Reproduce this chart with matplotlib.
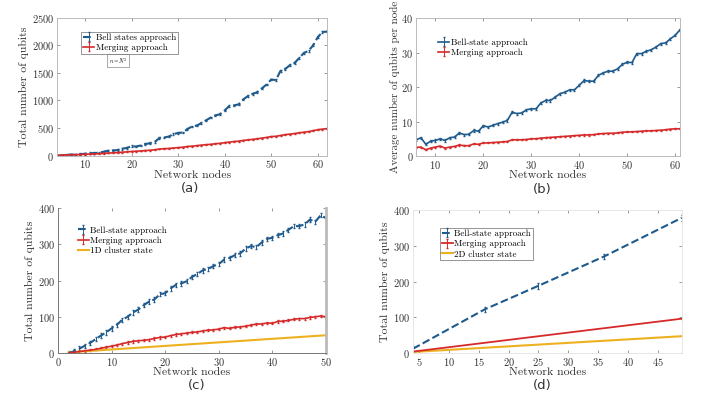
import numpy as np
import matplotlib.pyplot as plt

plt.rcParams['font.family'] = ['cmr10', 'DejaVu Serif']
plt.rcParams['mathtext.fontset'] = 'cm'
plt.rcParams['axes.formatter.use_mathtext'] = True

# (a) total qubits, n = N^2
nodes_a = list(range(4, 63))
bell_a = [0, 5, 15, 20, 15, 25, 35, 45, 45, 55, 70, 90, 95, 100, 125, 140, 170, 165, 185, 210,
          225, 250, 320, 330, 345, 390, 410, 420, 480, 530, 545, 590, 640, 690, 730, 750, 820,
          900, 910, 930, 1020, 1080, 1120, 1150, 1220, 1290, 1380, 1370, 1540, 1570, 1640,
          1680, 1770, 1860, 1900, 2000, 2150, 2240, 2250]
merge_a = [5, 8, 12, 15, 18, 20, 25, 30, 30, 35, 40, 48, 50, 55, 62, 68, 75, 80, 85, 92, 98,
           105, 120, 125, 130, 138, 145, 152, 165, 172, 180, 190, 198, 205, 215, 222, 235, 245,
           255, 262, 275, 285, 295, 305, 318, 330, 345, 350, 365, 380, 390, 400, 412, 425, 435,
           452, 470, 480, 490]

# (b) average qubits per node
nodes_b = list(range(6, 62))
bell_b = [4.7, 5.3, 3.4, 4.3, 4.5, 5.0, 4.5, 5.3, 5.5, 6.7, 6.2, 6.3, 7.4, 7.2, 8.8, 8.4, 8.9,
          9.4, 9.8, 10.3, 12.7, 12.3, 12.5, 13.4, 13.7, 13.7, 15.4, 16.1, 16.1, 17.1, 18.1, 18.5,
          19.2, 19.2, 20.5, 21.9, 21.7, 21.7, 23.4, 24.1, 24.6, 24.6, 25.3, 26.6, 27.2, 27.1,
          29.7, 29.7, 30.4, 30.8, 31.6, 32.6, 32.8, 34.0, 35.0, 36.6]
merge_b = [2.5, 2.6, 1.8, 2.3, 2.6, 2.9, 2.3, 2.6, 2.8, 3.2, 3.0, 3.0, 3.5, 3.4, 3.8, 3.8, 3.9,
           4.0, 4.1, 4.2, 4.7, 4.7, 4.7, 4.8, 5.0, 5.0, 5.2, 5.3, 5.4, 5.5, 5.6, 5.7, 5.8, 5.9,
           6.0, 6.1, 6.1, 6.2, 6.4, 6.5, 6.6, 6.6, 6.7, 6.9, 7.0, 7.0, 7.1, 7.2, 7.3, 7.3, 7.4,
           7.5, 7.6, 7.8, 7.9, 7.9]

# (c) total qubits vs 1D cluster state
nodes_c = list(range(2, 51))
bell_c = [0, 5, 12, 20, 28, 38, 48, 57, 68, 78, 92, 100, 112, 120, 132, 142, 148, 162, 165, 178,
          188, 192, 198, 210, 218, 228, 232, 240, 245, 258, 262, 270, 275, 288, 295, 292, 305,
          315, 318, 325, 330, 340, 350, 350, 355, 368, 362, 380, 372]
merge_c = [0, 2, 4, 6, 8, 10, 13, 16, 19, 22, 26, 29, 32, 34, 35, 37, 40, 43, 44, 48, 51, 53, 55,
           57, 58, 61, 63, 64, 66, 70, 68, 71, 72, 74, 77, 80, 80, 83, 82, 87, 88, 90, 93, 95,
           95, 98, 100, 102, 100]
cluster_c_x = [2, 50]
cluster_c = [2, 49]

# (d) total qubits vs 2D cluster state
nodes_d = [4, 16, 25, 36, 49]
bell_d = [12, 122, 188, 270, 378]
merge_d_x = [4, 49]
merge_d = [4, 96]
cluster_d_x = [4, 49]
cluster_d = [3, 47]

blue = '#1f5a8c'
red = '#d62a2a'
yellow = '#edb120'
txt = '#333333'

fig = plt.figure(figsize=(7.09, 3.94), dpi=100)
ax_a = fig.add_axes([0.0804, 0.605, 0.381, 0.350])
ax_b = fig.add_axes([0.587, 0.604, 0.372, 0.350])
ax_c = fig.add_axes([0.0818, 0.104, 0.378, 0.368])
ax_d = fig.add_axes([0.5825, 0.104, 0.379, 0.363])

for ax in [ax_a, ax_b, ax_c, ax_d]:
    ax.tick_params(direction='in', length=2.5, width=0.6, labelsize=7.5, colors='#888888',
                   labelcolor=txt, top=True, right=True, pad=2)
    for s in ax.spines.values():
        s.set_color('#bbbbbb')
        s.set_linewidth(0.7)
    ax.set_xlabel('Network nodes', fontsize=8.5, color=txt, labelpad=0)

leg_kw = dict(loc='upper left', fontsize=6.5, handlelength=1.2, handletextpad=0.2,
              labelspacing=0.2, borderaxespad=0)

# (a)
h1 = ax_a.errorbar(nodes_a, bell_a, yerr=15, color=blue, ls='--', lw=1.5, elinewidth=0.7,
                   capsize=1, label='Bell states approach')
h2 = ax_a.errorbar(nodes_a, merge_a, yerr=8, color=red, ls='-', lw=1.2, elinewidth=0.7,
                   capsize=1, label='Merging approach')
ax_a.set_xlim(4, 62)
ax_a.set_ylim(0, 2500)
ax_a.set_xticks([10, 20, 30, 40, 50, 60])
ax_a.set_yticks([0, 500, 1000, 1500, 2000, 2500])
ax_a.set_ylabel('Total number of qubits', fontsize=8.5, color=txt, labelpad=2)
leg = ax_a.legend(handles=[h1, h2], bbox_to_anchor=(0.09, 0.90), frameon=True,
                  fancybox=False, edgecolor='#666666', borderpad=0.2, **leg_kw)
leg.get_frame().set_linewidth(0.6)
ax_a.text(0.226, 0.687, r'$n=N^2$', transform=ax_a.transAxes, fontsize=4, ha='center',
          va='center', bbox=dict(boxstyle='square,pad=0.3', fc='white', ec='#888888', lw=0.5))

# (b)
h1 = ax_b.errorbar(nodes_b, bell_b, yerr=0.3, color=blue, ls='-', lw=1.2, elinewidth=0.7,
                   capsize=1, label='Bell-state approach')
h2 = ax_b.errorbar(nodes_b, merge_b, yerr=0.15, color=red, ls='-', lw=1.2, elinewidth=0.7,
                   capsize=1, label='Merging approach')
ax_b.set_xlim(6, 61)
ax_b.set_ylim(0, 40)
ax_b.set_xticks([10, 20, 30, 40, 50, 60])
ax_b.set_yticks([0, 10, 20, 30, 40])
ax_b.set_ylabel('Average number of qubits per node', fontsize=8, color=txt, labelpad=1)
ax_b.legend(handles=[h1, h2], bbox_to_anchor=(0.07, 0.88), frameon=False, **leg_kw)

# (c)
h1 = ax_c.errorbar(nodes_c, bell_c, yerr=6, color=blue, ls='--', lw=1.5, elinewidth=0.7,
                   capsize=1, label='Bell-state approach')
h2 = ax_c.errorbar(nodes_c, merge_c, yerr=3, color=red, ls='-', lw=1.2, elinewidth=0.7,
                   capsize=1, label='Merging approach')
h3, = ax_c.plot(cluster_c_x, cluster_c, color=yellow, lw=1.5, label='1D cluster state')
ax_c.set_xlim(0, 50)
ax_c.set_ylim(0, 400)
ax_c.set_xticks([0, 10, 20, 30, 40, 50])
ax_c.set_yticks([0, 100, 200, 300, 400])
ax_c.set_ylabel('Total number of qubits', fontsize=8.5, color=txt, labelpad=2)
ax_c.spines['left'].set_color('#777777')
ax_c.spines['bottom'].set_color('#777777')
ax_c.spines['top'].set_visible(False)
ax_c.spines['right'].set_linewidth(2)
ax_c.legend(handles=[h1, h2, h3], bbox_to_anchor=(0.06, 0.90), frameon=False, **leg_kw)

# (d)
h1 = ax_d.errorbar(nodes_d, bell_d, yerr=8, color=blue, ls='--', lw=1.5, elinewidth=0.7,
                   capsize=1, label='Bell-state approach')
h2 = ax_d.errorbar(merge_d_x, merge_d, yerr=2, color=red, ls='-', lw=1.3, elinewidth=0.7,
                   capsize=1, label='Merging approach')
h3, = ax_d.plot(cluster_d_x, cluster_d, color=yellow, lw=1.5, label='2D cluster state')
ax_d.set_xlim(4, 49)
ax_d.set_ylim(0, 400)
ax_d.set_xticks([5, 10, 15, 20, 25, 30, 35, 40, 45])
ax_d.set_yticks([0, 100, 200, 300, 400])
ax_d.set_ylabel('Total number of qubits', fontsize=8.5, color=txt, labelpad=2)
for s in ax_d.spines.values():
    s.set_color('#e6e6e6')
leg = ax_d.legend(handles=[h1, h2, h3], bbox_to_anchor=(0.10, 0.875), frameon=True,
                  fancybox=False, edgecolor='#666666', borderpad=0.2, **leg_kw)
leg.get_frame().set_linewidth(0.6)

# panel labels
for x, y, lab in [(190, 189, '(a)'), (542, 190, '(b)'), (197, 386, '(c)'), (542, 386, '(d)')]:
    fig.text(x / 709, 1 - y / 394, lab, fontsize=9.5, family='DejaVu Sans', color=txt,
             ha='center', va='center')

fig.savefig('out.png', dpi=100)
